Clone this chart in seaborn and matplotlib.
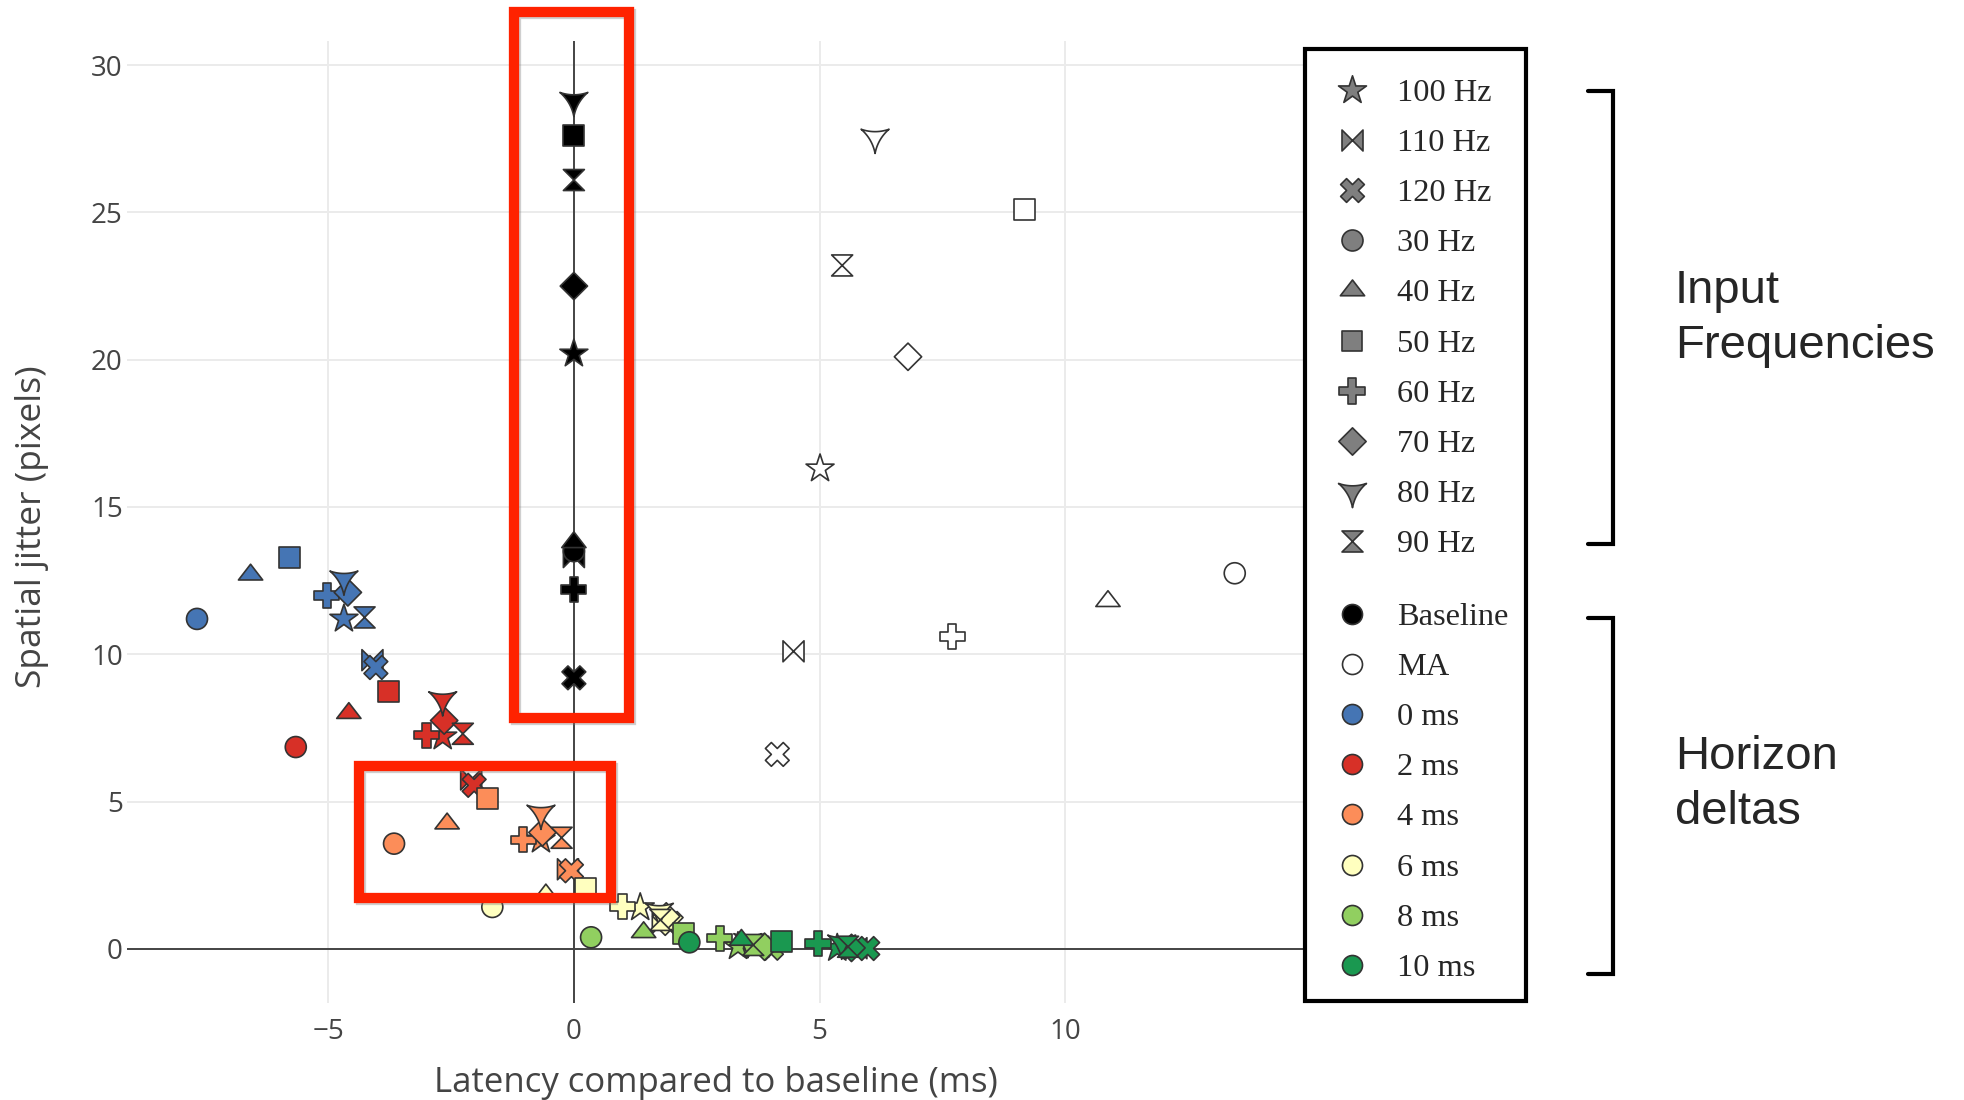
import numpy as np
import pandas as pd
import matplotlib
matplotlib.use("Agg")
import matplotlib.pyplot as plt
import matplotlib.patheffects as pe
from matplotlib.path import Path
from matplotlib.patches import Rectangle
import seaborn as sns

# ---------------------------------------------------------------- data
freqs = ["100 Hz", "110 Hz", "120 Hz", "30 Hz", "40 Hz",
         "50 Hz", "60 Hz", "70 Hz", "80 Hz", "90 Hz"]
groups = ["Baseline", "MA", "0 ms", "2 ms", "4 ms", "6 ms", "8 ms", "10 ms"]
group_colors = ["#000000", "#ffffff", "#4575b4", "#d73027",
                "#fc8d59", "#ffffbf", "#91cf60", "#1a9850"]

# latency (ms) / spatial jitter (px), one value per input frequency (order of `freqs`)
baseline_latency = [0, 0, 0, 0, 0, 0, 0, 0, 0, 0]
baseline_jitter = [20.2, 13.3, 9.2, 13.5, 13.8, 27.6, 12.2, 22.5, 28.8, 26.1]

ma_latency = [5.01, 4.47, 4.14, 13.45, 10.87, 9.18, 7.70, 6.80, 6.13, 5.46]
ma_jitter = [16.3, 10.1, 6.6, 12.75, 11.8, 25.1, 10.6, 20.1, 27.55, 23.2]

h0_latency = [-4.68, -4.10, -4.03, -7.67, -6.58, -5.78, -5.03, -4.60, -4.68, -4.26]
h0_jitter = [11.2, 9.8, 9.55, 11.2, 12.7, 13.3, 12.0, 12.1, 12.55, 11.25]

h2_latency = [-2.67, -2.09, -2.03, -5.66, -4.58, -3.77, -3.00, -2.64, -2.67, -2.26]
h2_jitter = [7.2, 5.75, 5.55, 6.85, 8.0, 8.75, 7.25, 7.75, 8.45, 7.3]

h4_latency = [-0.67, -0.12, -0.05, -3.66, -2.58, -1.76, -1.03, -0.64, -0.67, -0.25]
h4_jitter = [3.7, 2.7, 2.65, 3.57, 4.25, 5.1, 3.7, 3.95, 4.6, 3.77]

h6_latency = [1.35, 1.81, 1.98, -1.66, -0.57, 0.24, 0.99, 1.88, 1.74, 1.76]
h6_jitter = [1.4, 0.88, 0.86, 1.42, 1.84, 2.05, 1.43, 1.1, 1.27, 0.98]

h8_latency = [3.34, 3.75, 4.02, 0.35, 1.42, 2.24, 2.97, 3.88, 3.54, 3.65]
h8_jitter = [0.08, 0.07, 0.02, 0.39, 0.56, 0.52, 0.36, 0.07, 0.24, 0.13]

h10_latency = [5.36, 5.75, 5.98, 2.35, 3.41, 4.23, 4.97, 5.65, 5.45, 5.58]
h10_jitter = [0.02, 0.02, 0.01, 0.22, 0.30, 0.24, 0.18, 0.03, 0.19, 0.07]

x_ticks = [-5, 0, 5, 10]
y_ticks = [0, 5, 10, 15, 20, 25, 30]

latencies = [baseline_latency, ma_latency, h0_latency, h2_latency,
             h4_latency, h6_latency, h8_latency, h10_latency]
jitters = [baseline_jitter, ma_jitter, h0_jitter, h2_jitter,
           h4_jitter, h6_jitter, h8_jitter, h10_jitter]

rows = []
for g, lat, jit in zip(groups, latencies, jitters):
    for f, xv, yv in zip(freqs, lat, jit):
        rows.append({"group": g, "freq": f, "latency": xv, "jitter": yv})
df = pd.DataFrame(rows)

# ---------------------------------------------------------------- marker shapes
PAD = 1.6  # common extent so every symbol shares one scale


def shape(verts, codes=None):
    verts = np.asarray(verts, float)
    if codes is None:
        codes = [Path.MOVETO] + [Path.LINETO] * (len(verts) - 1)
        verts = np.vstack([verts, verts[:1]])
        codes = codes + [Path.CLOSEPOLY]
    verts = np.vstack([[PAD, PAD], verts])
    codes = [Path.MOVETO] + list(codes)
    return Path(verts, codes)


def star():
    rs = 1.4
    x1, x2, x3, x4 = 0.225 * rs, 0.951 * rs, 0.363 * rs, 0.588 * rs
    y1, y2, y3, y4, y5 = -rs, -0.309 * rs, 0.118 * rs, 0.809 * rs, 0.382 * rs
    pts = [(x1, y2), (x2, y2), (x3, y3), (x4, y4), (0, y5), (-x4, y4),
           (-x3, y3), (-x2, y2), (-x1, y2), (0, y1)]
    return shape([(x, -y) for x, y in pts])


def bowtie():
    return shape([(1, 1), (1, -1), (-1, 1), (-1, -1)])


def xshape():
    rx = 0.8 / np.sqrt(2)
    steps = {"ne": (rx, rx), "se": (rx, -rx), "sw": (-rx, -rx), "nw": (-rx, rx)}
    seq = ["ne", "se", "sw", "se", "sw", "nw", "sw", "nw", "ne", "nw", "ne"]
    pts = [(0.0, rx)]
    for s in seq:
        dx, dy = steps[s]
        pts.append((pts[-1][0] + dx, pts[-1][1] + dy))
    return shape(pts)


def circle():
    c = Path.unit_circle()
    return shape(c.vertices, c.codes)


def triangle_up():
    rt = 2 / np.sqrt(3)
    return shape([(-rt, -0.5), (rt, -0.5), (0, 1)])


def square():
    return shape([(-1, -1), (1, -1), (1, 1), (-1, 1)])


def cross():
    a, b = 0.4, 1.2
    return shape([(b, a), (a, a), (a, b), (-a, b), (-a, a), (-b, a),
                  (-b, -a), (-a, -a), (-a, -b), (a, -b), (a, -a), (b, -a)])


def diamond():
    d = 1.3
    return shape([(d, 0), (0, d), (-d, 0), (0, -d)])


def star_triangle_down():
    # equilateral downward triangle whose sides are concave arcs
    k = 1.33
    corners = [np.array([-k, k / np.sqrt(3)]), np.array([k, k / np.sqrt(3)]),
               np.array([0.0, -2 * k / np.sqrt(3)])]
    centroid = sum(corners) / 3
    R = 3.0 * k
    pts = []
    for i in range(3):
        p, q = corners[i], corners[(i + 1) % 3]
        mid = (p + q) / 2
        e = q - p
        half = np.linalg.norm(e) / 2
        n = np.array([e[1], -e[0]]) / np.linalg.norm(e)
        if np.dot(n, mid - centroid) < 0:
            n = -n
        c = mid + n * np.sqrt(R ** 2 - half ** 2)
        a0 = np.arctan2(*(p - c)[::-1])
        a1 = np.arctan2(*(q - c)[::-1])
        da = (a1 - a0 + np.pi) % (2 * np.pi) - np.pi
        for t in np.linspace(0, 1, 16)[:-1]:
            a = a0 + da * t
            pts.append(c + R * np.array([np.cos(a), np.sin(a)]))
    return shape(pts)


def hourglass():
    return shape([(1, 1), (-1, 1), (1, -1), (-1, -1)])


marker_paths = [star(), bowtie(), xshape(), circle(), triangle_up(),
                square(), cross(), diamond(), star_triangle_down(), hourglass()]

# ---------------------------------------------------------------- figure
W, H = 1965, 1100
sns.set_theme(style="white")
plt.rcParams["font.family"] = ["Open Sans", "DejaVu Sans"]
plt.rcParams["axes.unicode_minus"] = True

fig = plt.figure(figsize=(W / 100, H / 100), dpi=100)
fig.patch.set_facecolor("white")

px_l, px_r, px_t, px_b = 127, 1305, 41, 1003
ax = fig.add_axes([px_l / W, (H - px_b) / H, (px_r - px_l) / W, (px_b - px_t) / H])

r_px = 10.5
size_pt = 2 * PAD * r_px * 0.72
sns.scatterplot(data=df, x="latency", y="jitter", hue="group", style="freq",
                hue_order=groups, style_order=freqs,
                palette=dict(zip(groups, group_colors)),
                markers=dict(zip(freqs, marker_paths)),
                s=size_pt ** 2, edgecolor="#333333", linewidth=1.2,
                legend=False, ax=ax, zorder=4)

ax.set_xlim(-9.095, 14.88)
ax.set_ylim(-1.84, 30.82)
ax.set_xticks(x_ticks)
ax.set_yticks(y_ticks)
for s in ax.spines.values():
    s.set_visible(False)
ax.grid(True, color="#ebebeb", lw=1.4)
ax.set_axisbelow(True)
ax.axhline(0, color="#444444", lw=1.4, zorder=2)
ax.axvline(0, color="#444444", lw=1.4, zorder=2)
ax.tick_params(axis="both", length=0, labelsize=20, labelcolor="#444444")
ax.tick_params(axis="x", pad=11)
ax.tick_params(axis="y", pad=3)

ax.set_xlabel("Latency compared to baseline (ms)", fontsize=25, color="#444444")
ax.set_ylabel("Spatial jitter (pixels)", fontsize=25.5, color="#444444")
ax.xaxis.set_label_coords(0.5, -0.083)
ax.xaxis.label.set_va("center")
ax.yaxis.set_label_coords(-0.0805, 0.495)
ax.yaxis.label.set_va("center")
ax.yaxis.label.set_ha("center")

# highlight boxes around the baseline column and the 4 ms cluster
shadow = [pe.SimpleLineShadow(offset=(1.5, -1.5), shadow_color="#777777", alpha=0.35),
          pe.Normal()]
for (x0, x1, y0, y1) in [(-1.215, 1.12, 7.83, 31.8), (-4.37, 0.76, 1.74, 6.21)]:
    ax.add_patch(Rectangle((x0, y0), x1 - x0, y1 - y0, fill=False,
                           ec="#ff2200", lw=7.4, clip_on=False, zorder=6,
                           path_effects=shadow))

# ---------------------------------------------------------------- key panel
ov = fig.add_axes([0, 0, 1, 1], zorder=10)
ov.set_xlim(0, W)
ov.set_ylim(H, 0)
ov.axis("off")
ov.patch.set_alpha(0)

ov.add_patch(Rectangle((1305, 49), 221, 952, fc="white", ec="black", lw=3.0))

serif = ["Liberation Serif", "DejaVu Serif"]
mx, tx = 1352, 1397
leg_size = (2 * PAD * 10.5 * 0.72) ** 2
for i, (f, mp) in enumerate(zip(freqs, marker_paths)):
    yy = 90 + 50.1 * i
    ov.scatter([mx], [yy], marker=mp, s=leg_size, c="#7f7f7f",
               edgecolors="#333333", linewidths=1.2)
    ov.text(tx, yy + 11, f, fontsize=23.3, family=serif, va="baseline", ha="left")
for i, (g, col) in enumerate(zip(groups, group_colors)):
    yy = 614 + 50.1 * i
    ov.scatter([mx], [yy], marker=circle(), s=(2 * PAD * 10.0 * 0.72) ** 2, c=col,
               edgecolors="#333333", linewidths=1.2)
    ov.text(tx, yy + 11, g, fontsize=23.3, family=serif, va="baseline", ha="left")

# brackets and group captions
for (ya, yb) in [(91, 544), (618, 974)]:
    ov.plot([1588, 1613, 1613, 1588], [ya, ya, yb, yb], color="black",
            lw=3.0, solid_joinstyle="miter")

sans = ["Liberation Sans", "DejaVu Sans"]
for txt, yy in [("Input", 291), ("Frequencies", 346), ("Horizon", 757), ("deltas", 812)]:
    ov.text(1675, yy, txt, fontsize=34, family=sans, va="center", ha="left")

fig.savefig("out.png", dpi=100)
